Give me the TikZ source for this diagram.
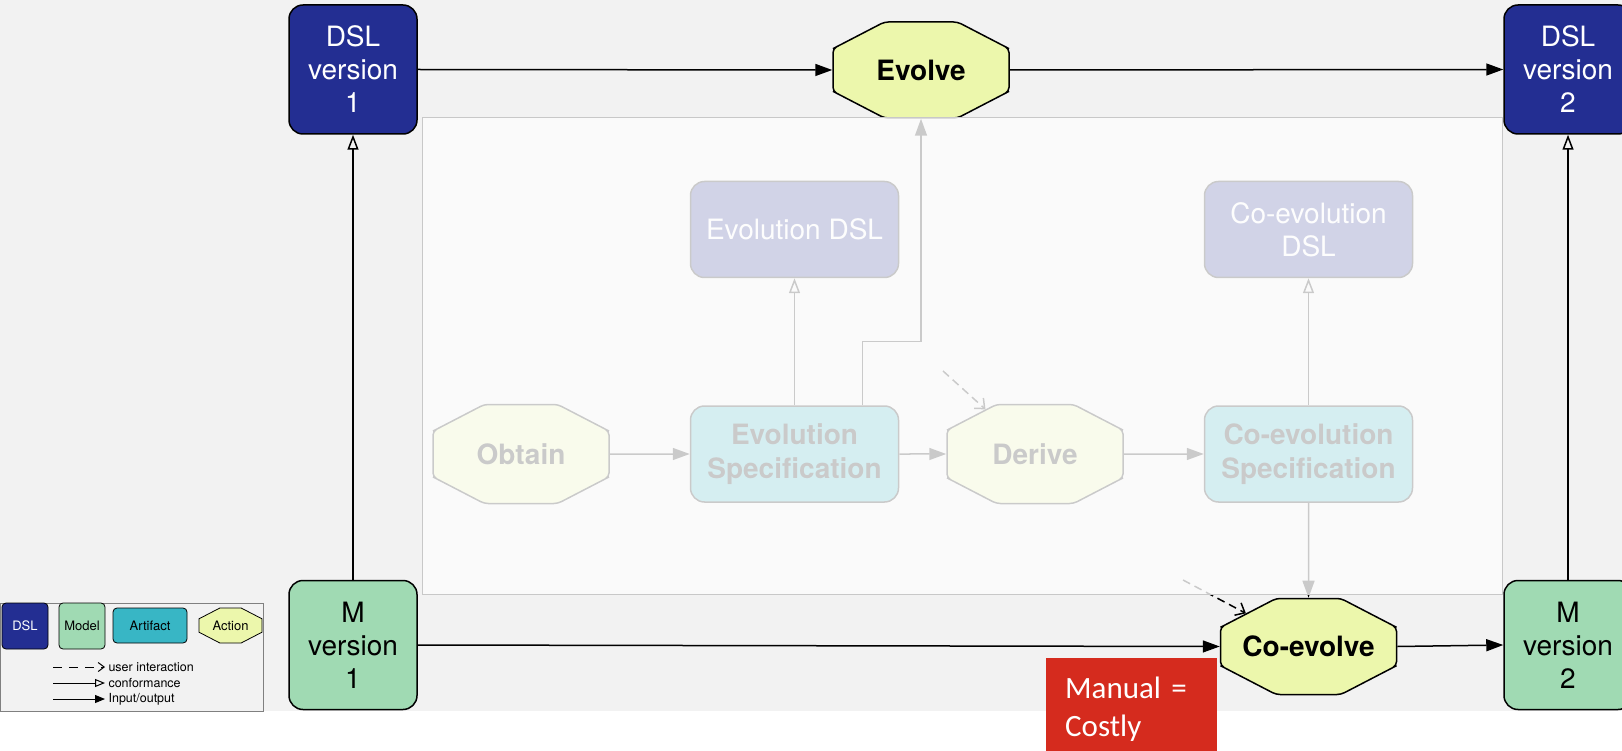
\documentclass[tikz,border=0pt]{standalone}
\usepackage{fontspec}
\setmainfont{TeX Gyre Heros}
\newfontfamily\costfont{Carlito}
\usetikzlibrary{shapes.misc, arrows.meta, positioning}

\definecolor{dslblue}{RGB}{35,46,146}
\definecolor{modelgreen}{RGB}{160,218,179}
\definecolor{artteal}{RGB}{56,182,197}
\definecolor{actyellow}{RGB}{236,247,172}
\definecolor{canvasgrey}{RGB}{242,242,242}
\definecolor{panelwhite}{RGB}{253,253,253}
\definecolor{panelline}{RGB}{200,200,200}
\definecolor{costred}{RGB}{213,43,30}

\begin{document}
\begin{tikzpicture}[
    x=1pt, y=-1pt,
    node distance=80pt and 80pt,
    big/.style={font=\fontsize{28}{33}\selectfont, align=center},
    dsl/.style={big, rectangle, draw, line width=1.5pt, rounded corners=14pt, fill=dslblue, text=white, minimum width=128pt, minimum height=129pt},
    model/.style={dsl, fill=modelgreen, text=black},
    lang/.style={big, rectangle, draw, line width=1.5pt, rounded corners=14pt, fill=dslblue, text=white, minimum width=208pt, minimum height=96pt},
    artifact/.style={lang, fill=artteal, text=black, font=\fontsize{28}{34}\selectfont\bfseries},
    action/.style={chamfered rectangle, chamfered rectangle angle=62.6, chamfered rectangle ysep=27pt, draw, line width=1.5pt, rounded corners=4pt, fill=actyellow, minimum width=176pt, minimum height=96pt, font=\fontsize{28}{34}\selectfont\bfseries},
    io/.style={-{Triangle[length=17pt, width=12pt]}, line width=1.5pt},
    conform/.style={-{Triangle[open, length=15pt, width=11pt]}, line width=1.5pt},
    user/.style={-{Straight Barb[length=8pt, width=14pt]}, line width=1.5pt, dash pattern=on 8pt off 5pt},
    legbox/.style={rectangle, draw, line width=0.8pt, rounded corners=4pt, inner sep=0pt, font=\fontsize{13}{15}\selectfont},
    legact/.style={chamfered rectangle, chamfered rectangle angle=62.6, chamfered rectangle ysep=9pt, draw, line width=0.8pt, fill=actyellow, inner sep=0pt, minimum width=63pt, minimum height=35pt, font=\fontsize{13}{15}\selectfont},
    legtext/.style={anchor=west, font=\fontsize{12.5}{14}\selectfont},
    costbox/.style={fill=costred, text=white, font=\costfont\fontsize{31}{38}\selectfont, align=left, text width=133pt, inner xsep=19pt, inner ysep=19pt}
]
\path[use as bounding box] (0,0) rectangle (1622,751);
\clip (0,0) rectangle (1622,751);
\fill[white] (0,0) rectangle (1622,751);
\fill[canvasgrey] (0,0) rectangle (1622,711);

% Inner nodes
\node[action, minimum height=99pt] (obtain) at (521,454) {Obtain};
\node[artifact, right=80pt of obtain] (evospec) {Evolution\\Specification};
\node[action, minimum height=99pt, right=47pt of evospec] (derive) {Derive};
\node[artifact, right=80pt of derive] (coevospec) {Co-evolution\\Specification};
\node[lang, above=127pt of evospec] (evodsl) {Evolution DSL};
\node[lang, above=127pt of coevospec] (coevodsl) {Co-evolution\\DSL};

% Outer nodes
\node[dsl] (dslA) at (353,69.5) {DSL\\version\\1};
\node[action] (evolve) at (921,70) {Evolve};
\node[dsl] (dslB) at (1568,69.5) {DSL\\version\\2};
\node[model] (mA) at (353,645) {M\\version\\1};
\node[model] (mB) at (1568,645) {M\\version\\2};
\node[action, below=95pt of coevospec] (coevolve) {Co-evolve};

% Inner connections
\coordinate (askA) at (943,371);
\coordinate (askB) at (1183,580);
\draw[io] (obtain) -- (evospec);
\draw[io] (evospec) -- (derive);
\draw[io] (derive) -- (coevospec);
\draw[conform] (evospec) -- (evodsl);
\draw[conform] (coevospec) -- (coevodsl);
\draw[io] (coevospec) -- (coevolve);
\draw[io] ([xshift=68pt]evospec.north) -- ++(0,-64) -| (evolve.south);
\draw[user] (askA) -- (derive);
\draw[user] (askB) -- (coevolve);

% Faded panel
\fill[panelwhite, fill opacity=0.8] (422,118) rectangle (1502,594);
\draw[panelline, line width=1pt] (422,118) rectangle (1502,594);

% Outer connections
\draw[io] (dslA.east) -- (evolve.west);
\draw[io] (evolve.east) -- (dslB.west);
\draw[conform] (mA) -- (dslA);
\draw[conform] (mB) -- (dslB);
\draw[io] (mA.east) -- (coevolve.west);
\draw[io] (coevolve.east) -- (mB.west);

% Legend
\draw[gray, line width=0.8pt, fill=canvasgrey] (0,603) rectangle (263,711);
\node[legbox, fill=dslblue, text=white, minimum width=46pt, minimum height=46pt] (kdsl) at (25,626) {DSL};
\node[legbox, fill=modelgreen, minimum width=46pt, minimum height=46pt] (kmodel) at (82,626) {Model};
\node[legbox, fill=artteal, minimum width=74pt, minimum height=35pt] (kart) at (150,625.5) {Artifact};
\node[legact] (kact) at (230.5,625.5) {Action};
\coordinate (kuser) at (53,667);
\coordinate (kconf) at (53,683);
\coordinate (kio) at (53,699);
\node[legtext] (kusertxt) at (105,667) {user interaction};
\node[legtext] (kconftxt) at (105,683) {conformance};
\node[legtext] (kiotxt) at (105,699) {Input/output};
\draw[-{Straight Barb[length=6pt, width=9pt]}, line width=1pt, dash pattern=on 9pt off 7pt] (kuser) -- (kusertxt.west);
\draw[-{Triangle[open, length=10pt, width=8pt]}, line width=1pt] (kconf) -- (kconftxt.west);
\draw[-{Triangle[length=10pt, width=8pt]}, line width=1pt] (kio) -- (kiotxt.west);

% Cost note
\node[costbox, anchor=north west] (cost) at (1046,658) {Manual =\\Costly};

\end{tikzpicture}
\end{document}
